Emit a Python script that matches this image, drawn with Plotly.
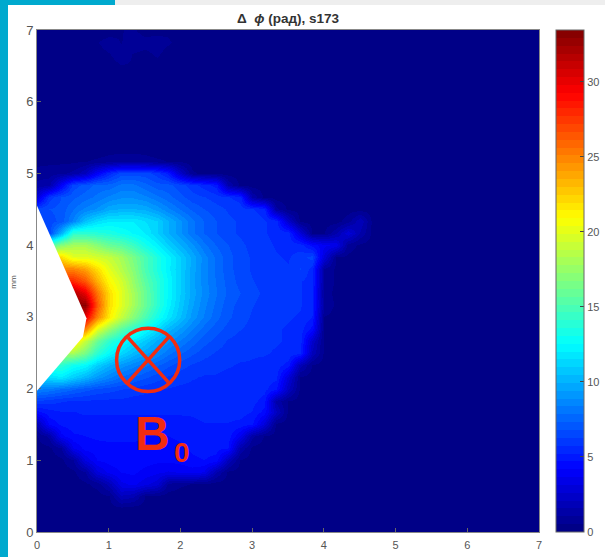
import plotly.graph_objects as go

title_text = "<b>Δ\u00a0\u00a0<i>ϕ</i> (рад), s173</b>"
STEPS = 42
x_mm = [i / 6 for i in range(STEPS + 1)]
y_mm = [7 - i / 6 for i in range(STEPS + 1)]
cbar_ticks = [0, 5, 10, 15, 20, 25, 30]
axis_ticks = [0, 1, 2, 3, 4, 5, 6, 7]

_ = 0.3
# Rows are read left to right from x = 0; cells past the end of a row are background.
r700 = [_,_,_,_,_,_,_,.5,.6,_,_,.4]
r683 = [_,_,_,_,_,.5,.7,.5,.8,.7,.8,.6]
r667 = [_,_,_,_,_,.4,.5,.7,.5,.4,.6]
r650 = [_,_,_,_,_,_,.4,.5,.5,.4]
r633 = [_,_,_,_,_,_,_,.5,.4]
r617 = [_,_,_,_,_,_,.4,.4]
r600 = [_,_,_,_,_,_,_,_,.4,.4]
r583 = [_,_,.4,.4]
r567 = [_,_,_,_,.4]
r550 = [_,_,_,_,.4,.4,_,_,_,.4]
r533 = [_,.4,_,_,_,_,.4,.4,.4,.4]
r517 = [_,.4,.4,.4,.5,.6,.7,.8,.8,.7,.6,.5,.4]
r500 = [.8,.8,.9,1.2,2,4,5.5,6.5,6.5,6.5,6,5,2.5,.6,.4]
r483 = [1.2,1.4,4,6.5,7,7.5,7.5,8,8,7.5,7,7,6.5,6,5.5,5,1.5,.4]
r467 = [3,6,6.8,7.2,7.6,8,8.5,8.8,8.8,8.5,8,7.5,7,6.5,6.3,6,5.8,5.5,1.5,.4]
r450 = [6.5,6.8,7,7.8,8.5,9,9.8,10,10,9.8,9.2,8.5,7.8,7.2,6.8,6.5,6.2,6,5.8,5.5,1.2,.4]
r433 = [6,6.5,7,8.5,10.5,11.5,12,12,12,11.5,11,10,9,8,7.3,6.8,6.4,6.2,6,5.8,5.5,2.5,.4,_,_,_,.8,2,.4]
r417 = [6,6.5,10,14,14,13.8,13.5,13,12.5,12,11,10,9,8,7.3,6.8,6.4,6.2,6,5.8,5.6,5.5,3,.5,.5,1.5,3,1.5,.4]
r400 = [14,15,17,18,18,17,16,15.5,14.5,13.2,12.2,11,10,9,8,7.3,6.8,6.4,6.1,5.9,5.7,5.6,5.5,4.5,3.8,3.5,.8,.4]
r383 = [22,22,22,20,20,19.5,19,18,16.5,15,13.5,12.3,11,9.8,8.6,7.7,7,6.5,6.2,6,5.8,5.7,6,6.5,3,.5,.4]
r367 = [25,25,25,25,24,22,20,18.5,17,15,13.5,12.2,11,9.7,8.6,7.7,7,6.5,6.2,6,5.9,5.8,6.3,5.5,1,.4]
r350 = [28,28,28,28,26.5,23.5,21,19.5,17.5,15.5,14,12.5,11,9.6,8.6,7.8,7.1,6.6,6.3,6.1,6,5.9,5.8,5.5,1,.4]
r333 = [32,32,32,32,30,25.5,22,20,18,16,14,12.5,11,9.7,8.7,7.9,7.2,6.8,6.4,6.2,6,5.9,5.8,5.4,.7,.4]
r317 = [33,33,33,33,33,26.5,22,20,18,16,14,12.3,10.8,9.5,8.5,7.7,7,6.6,6.3,6.1,6,5.9,5.8,5.4,1,.4]
r300 = [31,31,31,31,30,25,21.5,19,17,15,13.2,11.8,10.5,9.2,8.3,7.5,6.9,6.5,6.2,6,5.9,5.8,5.7,5.2,.5]
r283 = [26,26,26,26,25,20,17.5,15.5,14,12.7,11.4,10.2,9.3,8.4,7.6,7,6.6,6.3,6.1,5.9,5.8,5.7,5.5,4.5,.4]
r267 = [22,22,22,22,19,16,14,12.7,11.7,10.8,9.8,9,8.3,7.6,7,6.6,6.2,6,5.9,5.8,5.8,5.7,5.5,2.5,.4]
r250 = [18,18,18,18,16.5,14,12.5,11.3,10.3,9.6,8.8,8,7.4,6.9,6.5,6.2,6,5.9,5.8,5.8,5.7,5.6,5.4,2,.4]
r233 = [14,14,14,13,12.5,11,10,9.2,8.6,8,7.4,6.9,6.5,6.2,6,5.9,5.8,5.7,5.7,5.6,5.5,5,1.8,.5]
r217 = [11,11.5,12,11,10.2,9.2,8.5,7.8,7.3,6.9,6.5,6.2,6,5.8,5.7,5.7,5.6,5.6,5.6,5.5,5.4,3,.5]
r200 = [8.5,8.2,7.8,7.4,7,6.7,6.5,6.3,6.1,5.9,5.8,5.7,5.6,5.6,5.6,5.6,5.5,5.5,5.5,5.4,4.8,2.2,.4]
r183 = [6.2,6,5.8,5.7,5.7,5.6,5.6,5.6,5.5,5.5,5.5,5.5,5.5,5.5,5.5,5.5,5.5,5.4,5.4,5,1.4,.5]
r167 = [4.5,5,5.2,5.2,5.3,5.3,5.3,5.3,5.3,5.3,5.3,5.3,5.3,5.3,5.4,5.4,5.4,5.4,5.2,4.5,2.2,.4]
r150 = [1.8,4.3,4.8,5,5,5,5,5,5,5,5,5,5,5.1,5.2,5.2,5.2,5.1,4.8,3,.4]
r133 = [.5,1.2,4,4.6,4.7,4.8,4.8,4.8,4.8,4.7,4.7,4.7,4.8,5,5,5,5,3.6,1.2,.5]
r117 = [_,.4,1,3.6,4.4,4.5,4.6,4.6,4.6,4.6,4.5,4.5,4.6,4.8,4.9,4.9,4.7,1.5,.4]
r100 = [_,_,.4,1,3.2,4.2,4.4,4.5,4.5,4.4,4.3,4.3,4.4,4.6,4.7,4.5,2,.5]
r083 = [_,_,_,.4,1,3,3.8,4.2,4.3,4,3.8,3.6,3.7,3.9,3.6,1.6,.4]
r067 = [_,_,_,_,.4,.7,1.8,3.5,3.8,3.3,2.8,.9,.6,.5,.4]
r050 = [_,_,_,_,_,_,.5,2,1.7,.5,.4]
r033 = [_,_,_,_,_,_,_,.4]
r017 = [_]
r000 = [_]
rows = [r700, r683, r667, r650, r633, r617, r600, r583, r567, r550, r533, r517, r500, r483, r467,
        r450, r433, r417, r400, r383, r367, r350, r333, r317, r300, r283, r267, r250, r233, r217,
        r200, r183, r167, r150, r133, r117, r100, r083, r067, r050, r033, r017, r000]
z_rad = [r + [_] * (STEPS + 1 - len(r)) for r in rows]

def jet(t):
    def c(v):
        return max(0.0, min(1.0, 1.5 - abs(4 * t - v)))
    return f"rgb({int(255*c(3))},{int(255*c(2))},{int(255*c(1))})"
N = 64
scale = []
for i in range(N):
    col = jet((i + 0.5) / N)
    scale += [[i / N, col], [(i + 1) / N, col]]

fig = go.Figure(go.Heatmap(
    x=x_mm, y=y_mm, z=z_rad, zmin=0, zmax=33.46, zsmooth="best", colorscale=scale,
    showscale=True, hoverinfo="skip",
    colorbar=dict(x=1.034, xanchor="left", y=0, yanchor="bottom", len=1, lenmode="fraction",
                  thickness=28, thicknessmode="pixels", xpad=0, ypad=0,
                  outlinecolor="#666", outlinewidth=1,
                  tickvals=cbar_ticks, ticks="inside", ticklen=4, tickcolor="#444",
                  tickfont=dict(size=11, color="#555555", family="Liberation Sans")),
))

red = "#F22C10"
shapes = [
    dict(type="rect", xref="paper", yref="paper", x0=-37/502, x1=-29/502, y0=-25/502, y1=532/502,
         fillcolor="#00A9CE", line_width=0, layer="above"),
    dict(type="rect", xref="paper", yref="paper", x0=-29/502, x1=78/502, y0=527/502, y1=532/502,
         fillcolor="#00A9CE", line_width=0, layer="above"),
    dict(type="rect", xref="paper", yref="paper", x0=78/502, x1=568/502, y0=527/502, y1=532/502,
         fillcolor="#EEEEEE", line_width=0, layer="above"),
    dict(type="path", path="M 0 4.55 L 0.69 2.98 L 0.64 2.72 L 0 1.97 Z",
         fillcolor="white", line_width=0, layer="above"),
    dict(type="circle", x0=1.11, x1=1.99, y0=1.96, y1=2.84, line=dict(color=red, width=3.5), layer="above"),
    dict(type="line", x0=1.27, y0=2.71, x1=1.83, y1=2.09, line=dict(color=red, width=3.5), layer="above"),
    dict(type="line", x0=1.83, y0=2.71, x1=1.27, y1=2.09, line=dict(color=red, width=3.5), layer="above"),
]

fig.update_layout(
    width=605, height=557, autosize=False,
    margin=dict(l=37, r=66, t=30, b=25, autoexpand=False),
    paper_bgcolor="white", plot_bgcolor="white",
    font=dict(family="Liberation Sans", color="#555"),
    shapes=shapes,
    annotations=[
        dict(text=title_text, x=0.5, y=1, xref="paper", yref="paper", xanchor="center", yanchor="bottom",
             yshift=2, showarrow=False, font=dict(size=13.5, color="#333", family="Liberation Sans")),
        dict(text="mm", x=-23/502, y=3.49, xref="paper", yref="y", xanchor="center", showarrow=False, textangle=-90,
             font=dict(size=8, color="#555")),
        dict(text="<b>B</b>", x=1.605, y=1.38, showarrow=False, font=dict(size=48, color=red, family="Liberation Sans")),
        dict(text="<b>0</b>", x=2.02, y=1.115, showarrow=False, font=dict(size=28, color=red, family="Liberation Sans")),
    ],
    xaxis=dict(range=[0, 7], tickvals=axis_ticks, ticks="inside", ticklen=4, tickcolor="#666",
               showgrid=False, zeroline=False, showline=True, linecolor="#888", mirror=True,
               ticklabelstandoff=3, tickfont=dict(size=11, color="#555")),
    yaxis=dict(range=[0, 7], tickvals=axis_ticks, ticks="inside", ticklen=4, tickcolor="#666",
               showgrid=False, zeroline=False, showline=True, linecolor="#888", mirror=True,
               tickfont=dict(size=13, color="#555")),
)
fig.write_html("out.html", config={"displayModeBar": False},
               post_script="document.body.style.margin='0';")
